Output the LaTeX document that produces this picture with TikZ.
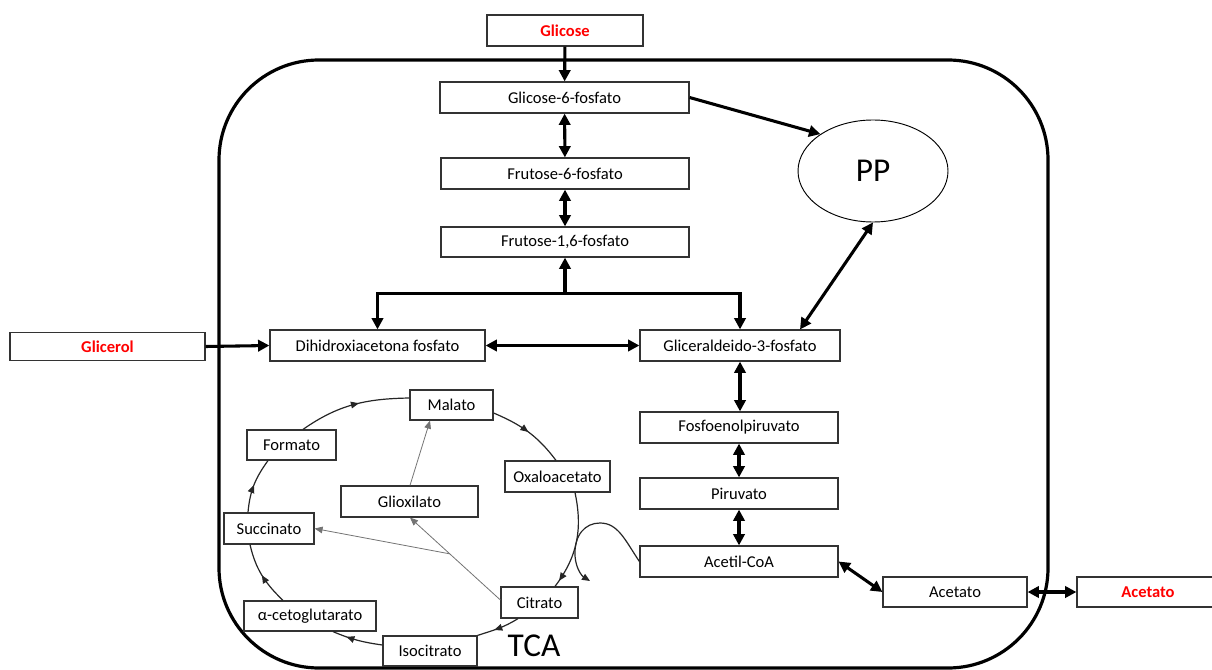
\documentclass[tikz,border=0pt]{standalone}
\usepackage{fontspec}
\setmainfont{Carlito}
\usetikzlibrary{arrows.meta,calc,decorations.markings,shapes.geometric}
\begin{document}
\begin{tikzpicture}[x=0.75pt,y=0.75pt,
  box/.style={draw=black!80, line width=0.9pt, fill=white, inner sep=0pt,
    minimum height=23.25pt, font=\fontsize{12.4}{14}\selectfont, text=black},
  redbox/.style={box, font=\fontsize{12.4}{14}\selectfont\bfseries, text=red},
  bigtxt/.style={font=\fontsize{25}{28}\selectfont},
  thickarr/.style={line width=2.3pt, -{Triangle[length=8.5pt,width=8.5pt]}},
  dblarr/.style={line width=2.3pt, {Triangle[length=8.5pt,width=8.5pt]}-{Triangle[length=8.5pt,width=8.5pt]}},
  cyc/.style={line width=0.9pt, draw=black!85},
  grayline/.style={line width=0.6pt, draw=black!55, -{Triangle[length=6pt,width=5pt]}},
  midarr/.style={postaction={decorate}, decoration={markings,
    mark=at position #1 with {\arrow{Triangle[length=6pt,width=5pt]}}}},
  cell/.style={line width=2.4pt, rounded corners=75pt}
]
\useasboundingbox (0,0) rectangle (1212,-670);
\clip (0,0) rectangle (1212,-670);

% cell membrane
\draw[cell] (219,-60) rectangle (1048,-668);

% glycolysis nodes
\node[redbox, minimum width=117pt] (glicose) at (565,-30.5) {Glicose};
\node[box, minimum width=186.75pt] (g6p) at (564.5,-97.5) {Glicose-6-fosfato};
\node[box, minimum width=186pt] (f6p) at (565,-173.5) {Frutose-6-fosfato};
\node[box, minimum width=186pt, minimum height=22.5pt] (f16p) at (565,-242) {Frutose-1,6-fosfato};
\node[redbox, minimum width=146.25pt, minimum height=21pt] (glicerol) at (107.5,-346.5) {Glicerol};
\node[box, minimum width=161.25pt] (dhap) at (377.5,-345.5) {Dihidroxiacetona fosfato};
\node[box, minimum width=150pt] (g3p) at (740,-345.5) {Gliceraldeido-3-fosfato};
\node[draw, line width=0.7pt, ellipse, minimum width=112.5pt, minimum height=76.5pt, inner sep=0pt, bigtxt] (pp) at (873,-171) {PP};
\node[box, minimum width=148.5pt] (pep) at (739,-427.5) {Fosfoenolpiruvato};
\node[box, minimum width=148.5pt] (piruvato) at (739,-493.5) {Piruvato};
\node[box, minimum width=148.5pt] (acetilcoa) at (739,-561.5) {Acetil-CoA};
\node[box, minimum width=108pt, minimum height=22.5pt] (acetato) at (955,-592) {Acetato};
\node[redbox, minimum width=106.5pt, minimum height=22.5pt] (acetatoext) at (1148,-592) {Acetato};

% TCA nodes
\node[box, minimum width=62.25pt, minimum height=22.5pt] (malato) at (451.5,-405) {Malato};
\node[box, minimum width=66.75pt, minimum height=22.5pt] (formato) at (291.5,-445) {Formato};
\node[box, minimum width=78.75pt] (oxalo) at (557.5,-476.5) {Oxaloacetato};
\node[box, minimum width=102.75pt] (gliox) at (409.5,-501.5) {Glioxilato};
\node[box, minimum width=67.5pt] (succ) at (269,-528.5) {Succinato};
\node[box, minimum width=57.75pt] (citrato) at (539.5,-602.5) {Citrato};
\node[box, minimum width=99pt, minimum height=22.5pt] (aceto) at (310,-616) {α-cetoglutarato};
\node[box, minimum width=70.5pt, minimum height=22.5pt] (isoc) at (430,-651) {Isocitrato};
\node[bigtxt, inner sep=0pt] (tca) at (534,-646) {TCA};

% glycolysis connectors
\draw[thickarr] (glicose) -- (g6p);
\draw[dblarr] (g6p) -- (f6p);
\draw[dblarr] (f6p) -- (f16p);
\coordinate (split) at ($(f16p.south)+(0,-36)$);
\draw[thickarr] (split) -- (f16p.south);
\draw[thickarr] (split) -| (dhap.north);
\draw[thickarr] (split) -| (g3p.north);
\draw[thickarr] (glicerol.east) -- (dhap.west);
\draw[dblarr] (dhap) -- (g3p);
\draw[thickarr] (g6p.east) -- (pp.145);
\draw[dblarr] ($(g3p.north)+(60,0)$) -- (pp.south);
\draw[dblarr] (g3p.south) -- (g3p.south |- pep.north);
\draw[dblarr] (pep) -- (piruvato);
\draw[dblarr] (piruvato) -- (acetilcoa);
\draw[dblarr] (acetilcoa.east) -- (acetato.west);
\draw[dblarr] (acetato) -- (acetatoext);

% TCA cycle arcs
\draw[cyc, midarr=0.55] ($(formato.north)+(11.5,0)$) to[out=35,in=181] ($(malato.west)+(0,7)$);
\draw[cyc, midarr=0.5] ($(malato.east)+(0,-8)$) to[out=-23,in=127] ($(oxalo.north)+(-1.5,0)$);
\draw[cyc, midarr=0.93] ($(oxalo.south)+(17.5,0)$) to[out=-78,in=53] ($(citrato.north)+(15.5,0)$);
\draw[cyc, midarr=0.6] ($(citrato.south)+(-21.5,0)$) to[out=212,in=18] (isoc.north east);
\draw[cyc, midarr=0.72] ($(isoc.west)+(0,6)$) to[out=172,in=-23] ($(aceto.south)+(23,0)$);
\draw[cyc, midarr=0.5] ($(aceto.north)+(-27,0)$) to[out=136,in=-77] ($(succ.south)+(-19,0)$);
\draw[cyc, midarr=0.5] ($(succ.north)+(-21,0)$) to[out=85,in=-126] ($(formato.south)+(-23.5,0)$);

% glyoxylate shunt
\draw[grayline] ($(citrato.west)+(0,2.5)$) -- ($(gliox.south)+(0.5,0)$);
\coordinate (jn) at ($($(citrato.west)+(0,2.5)$)!0.56!($(gliox.south)+(0.5,0)$)$);
\draw[grayline] (jn) -- (succ.east);
\draw[grayline] ($(gliox.north)+(0.5,0)$) -- ($(malato.south)+(-21.5,0)$);

% acetyl-CoA entry
\coordinate (acend) at (590,-581);
\draw[cyc, -{Triangle[length=6pt,width=5pt]}] (acetilcoa.west) .. controls (625,-540) and (618,-523) .. (600,-523)
  .. controls (585,-523) and (574,-535) .. (575,-556) .. controls (576,-569) and (582,-576) .. (acend);
\end{tikzpicture}
\end{document}
